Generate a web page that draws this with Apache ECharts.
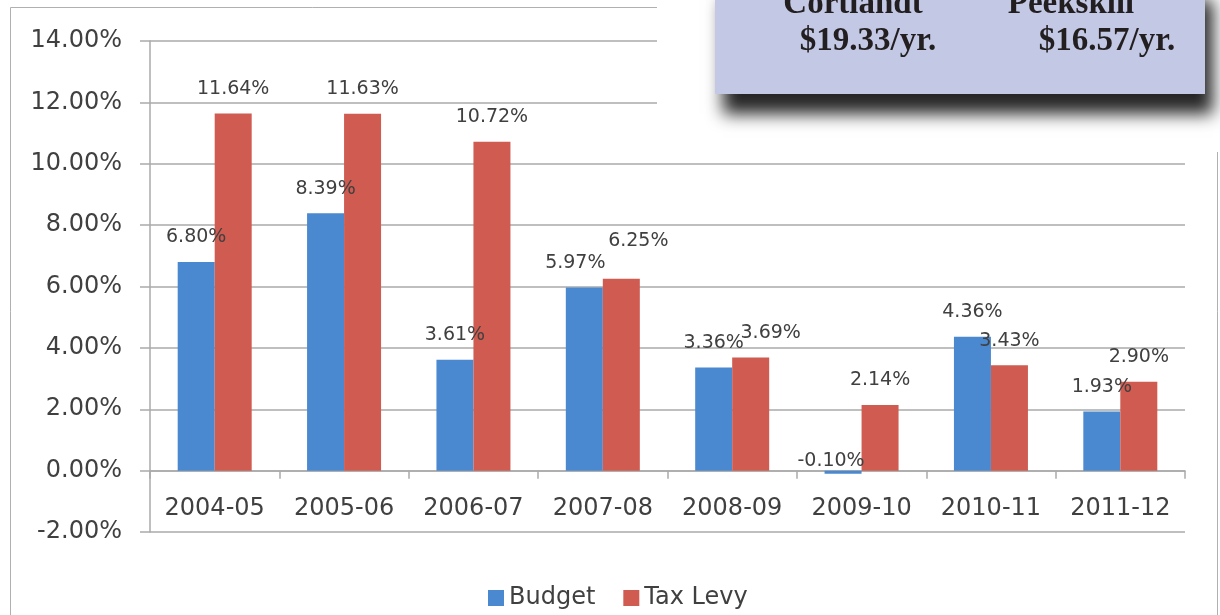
<!DOCTYPE html>
<html>
<head>
<meta charset="utf-8">
<script src="https://cdn.jsdelivr.net/npm/echarts@6/dist/echarts.min.js"></script>
<style>
html,body{margin:0;padding:0;background:#fff;}
#chart{width:1220px;height:615px;}
</style>
</head>
<body>
<div id="chart"></div>
<script>
const categories = ['2004-05','2005-06','2006-07','2007-08','2008-09','2009-10','2010-11','2011-12'];
const budget = [6.80, 8.39, 3.61, 5.97, 3.36, -0.10, 4.36, 1.93];
const taxLevy = [11.64, 11.63, 10.72, 6.25, 3.69, 2.14, 3.43, 2.90];
const seriesNames = ['Budget', 'Tax Levy'];
const boxHeads = ['Cortlandt', 'Peekskill'];
const boxValues = ['$19.33/yr.', '$16.57/yr.'];

const FONT = 'DejaVu Sans';
const TXT = '#404040';
const GRID = '#aaaaaa';
const Y_MIN = -2, Y_MAX = 14;
const GRID_TOP = 41, GRID_BOTTOM = 83, H = 615;
const plotH = H - GRID_TOP - GRID_BOTTOM;
// move the category axis up from the grid bottom to the zero line
const zeroOffset = -plotH * (0 - Y_MIN) / (Y_MAX - Y_MIN);

// label nudges (style only) mimicking the original's overlap avoidance
const nudgeBudget = { 3: [-9, 0], 5: [-12, 0] };
const nudgeTax = { 3: [17, -13], 4: [20, 0], 3.5: null };

function mk(vals, nudges) {
  return vals.map((v, i) => {
    const label = {};
    if (v < 0) label.distance = 0;
    if (nudges[i]) label.offset = nudges[i];
    return Object.keys(label).length ? { value: v, label } : v;
  });
}

const chart = echarts.init(document.getElementById('chart'), null, { renderer: 'canvas' });
chart.setOption({
  animation: false,
  backgroundColor: '#ffffff',
  color: ['#4a89cf', '#cf5b51'],
  grid: { left: 150, right: 35, top: GRID_TOP, bottom: GRID_BOTTOM, containLabel: false },
  legend: {
    data: seriesNames,
    left: 483, top: 581,
    itemWidth: 16, itemHeight: 16, itemGap: 28,
    icon: 'rect',
    textStyle: { fontFamily: FONT, fontSize: 24, color: TXT, padding: [0, 0, 0, 0] }
  },
  xAxis: {
    type: 'category',
    data: categories,
    offset: zeroOffset,
    axisLine: { show: true, onZero: false, lineStyle: { color: GRID, width: 1.5 } },
    axisTick: { show: true, length: 8, lineStyle: { color: GRID, width: 1.5 } },
    axisLabel: { interval: 0, fontFamily: FONT, fontSize: 24, color: TXT, margin: 26 },
    splitLine: { show: false }
  },
  yAxis: {
    type: 'value',
    min: Y_MIN, max: Y_MAX, interval: 2,
    axisLine: { show: true, lineStyle: { color: GRID, width: 1.5 } },
    axisTick: { show: true, length: 10, lineStyle: { color: GRID, width: 1.5 } },
    axisLabel: { fontFamily: FONT, fontSize: 24, color: TXT, margin: 28,
      formatter: v => v.toFixed(2) + '%' },
    splitLine: { show: true, lineStyle: { color: GRID, width: 1.5 } }
  },
  series: [
    {
      name: seriesNames[0], type: 'bar', data: mk(budget, nudgeBudget),
      barWidth: 37, barGap: '0%',
      label: { show: true, position: 'top', distance: 15, fontFamily: FONT, fontSize: 19, color: TXT,
        formatter: p => p.value.toFixed(2) + '%' }
    },
    {
      name: seriesNames[1], type: 'bar', data: mk(taxLevy, nudgeTax),
      barWidth: 37, barGap: '0%',
      label: { show: true, position: 'top', distance: 15, fontFamily: FONT, fontSize: 19, color: TXT,
        formatter: p => p.value.toFixed(2) + '%' }
    }
  ],
  graphic: [
    { type: 'rect', z: 0, silent: true, shape: { x: 10.5, y: 7.5, width: 1207, height: 640 },
      style: { fill: 'none', stroke: '#b0b0b0', lineWidth: 1 } },
    { type: 'rect', z: 100, silent: true, shape: { x: 657, y: 0, width: 563, height: 152 },
      style: { fill: '#ffffff' } },
    { type: 'rect', z: 101, silent: true, shape: { x: 715, y: -20, width: 490, height: 114 },
      style: { fill: '#c3c9e5', shadowBlur: 16, shadowOffsetX: 8, shadowOffsetY: 20, shadowColor: 'rgba(0,0,0,0.85)' } },
    { type: 'text', z: 102, silent: true, x: 853, y: 21,
      style: { text: boxHeads[0], font: 'bold 33px "Liberation Serif"', fill: '#231f20', align: 'center', verticalAlign: 'bottom' } },
    { type: 'text', z: 102, silent: true, x: 1071, y: 21,
      style: { text: boxHeads[1], font: 'bold 33px "Liberation Serif"', fill: '#231f20', align: 'center', verticalAlign: 'bottom' } },
    { type: 'text', z: 102, silent: true, x: 868, y: 41,
      style: { text: boxValues[0], font: 'bold 33px "Liberation Serif"', fill: '#231f20', align: 'center', verticalAlign: 'middle' } },
    { type: 'text', z: 102, silent: true, x: 1107, y: 41,
      style: { text: boxValues[1], font: 'bold 33px "Liberation Serif"', fill: '#231f20', align: 'center', verticalAlign: 'middle' } }
  ]
});
</script>
</body>
</html>
